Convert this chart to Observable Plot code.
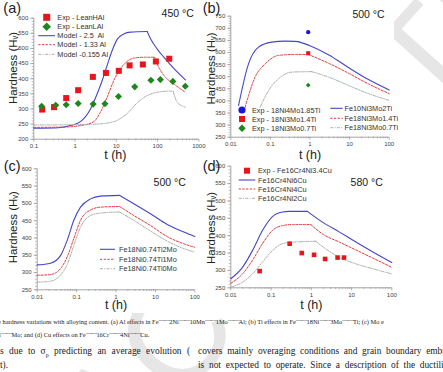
<!DOCTYPE html>
<html>
<head>
<meta charset="utf-8">
<script src="https://cdn.jsdelivr.net/npm/d3@7"></script>
<script src="https://cdn.jsdelivr.net/npm/@observablehq/plot@0.6"></script>
<style>
  html, body { margin: 0; padding: 0; background: #fff; }
  #fig { position: relative; width: 443px; height: 372px; overflow: hidden; background: #fff;
         font-family: "Liberation Sans", Arial, sans-serif; color: #222; }
  #wm { position: absolute; left: 0; top: 0; }
  #wm text { font-family: "Liberation Sans", Arial, sans-serif; font-size: 137px; fill: #e6e6e6; dominant-baseline: central; }
  #sheet { position: absolute; left: 0; top: 0; width: 394px; height: 313px; background: #fff; }
  .panel { position: absolute; }
  .panel svg { overflow: visible; }
  #keys { position: absolute; left: 0; top: 0; overflow: visible; }
  #keys text { font-size: 7.3px; fill: #333; white-space: pre; dominant-baseline: central; }
  .txt { position: absolute; white-space: nowrap; font-family: "Liberation Serif", "Times New Roman", serif; color: #222; }
  .cap { font-size: 6.4px; line-height: 8px; }
  .body { font-size: 9.4px; line-height: 11px; text-align: justify; text-align-last: justify; }
  .d { position: relative; top: -1.6px; letter-spacing: -1px; }
</style>
</head>
<body>
<div id="fig">
  <svg id="wm" width="443" height="372"><text transform="translate(175,335) rotate(-48)" x="-141">ACCEPTED MANUSCRIPT</text></svg>
  <div id="sheet"></div>
</div>
<script>
// ---------- (a) Al effects, 450 °C ----------
const aTicksX = [0.1, 1, 10, 100, 1000];
const aTicksY = [200, 250, 300, 350, 400, 450, 500, 550, 600];
const aExpHAlTime = [0.16, 0.31, 0.61, 1.19, 2.7, 5.6, 11.5, 21, 44, 91, 192];
const aExpHAlHv   = [298, 306, 336, 362, 406, 419, 426, 444, 447, 457, 466];
const aExpLAlTime = [0.155, 0.34, 0.61, 1.19, 2.75, 5.3, 11.3, 28, 69, 117, 235, 470];
const aExpLAlHv   = [309, 312, 314, 318, 316, 317, 341, 373, 395, 397, 391, 375];
const aModel25Time = [0.1, 0.4, 0.77, 1.35, 2.37, 3.44, 4.55, 6.0, 7.94, 10.5, 15.2, 22, 56, 67.6, 98, 142, 247, 475];
const aModel25Hv   = [236, 238, 245, 258, 300, 350, 394, 444, 493, 530, 548, 554, 556, 532, 498, 471, 434, 396];
const aModel25Peak = 56;
const aModel133Time = [0.1, 0.5, 1.35, 2.85, 4.1, 6.0, 8.7, 12.6, 18.2, 26.4, 50, 85, 98, 142, 247, 475];
const aModel133Hv   = [239, 240, 245, 258, 289, 339, 394, 433, 457, 468, 471, 471, 449, 411, 383, 355];
const aModel133Peak = 85;
const aModel0155Time = [0.1, 1, 3.4, 8.7, 18, 32, 56, 98, 205, 240, 300, 475];
const aModel0155Hv   = [247, 248, 250, 258, 284, 320, 344, 355, 359, 358, 322, 306];
const aModel0155Peak = 240;
const aLegend = ["Exp - LeanHAl", "Exp - LeanLAl", "Model - 2.5  Al", "Model - 1.33 Al", "Model -0.155 Al"];

// ---------- (b) Ti effects, 500 °C ----------
const bTicksX = [0.01, 0.1, 1, 10, 100];
const bTicksY = [250, 300, 350, 400, 450, 500, 550, 600, 650, 700, 750];
const bExpTime = [0.9];
const bExp185Hv = [684];
const bExp14Hv  = [597];
const bExp07Hv  = [465];
const bMo2TiTime = [0.0157, 0.028, 0.05, 0.108, 0.235, 0.51, 1, 3, 10, 30, 100];
const bMo2TiHv   = [381, 553, 622, 643, 647, 645, 628, 590, 535, 488, 445];
const bMo2TiPeak = 0.51;
const bTi14Time = [0.023, 0.041, 0.074, 0.16, 0.43, 0.9, 3, 10, 30, 100];
const bTi14Hv   = [374, 498, 553, 588, 592, 592, 555, 512, 470, 430];
const bTi14Peak = 0.9;
const bTi07Time = [0.055, 0.09, 0.16, 0.35, 1.1, 3, 10, 30, 100];
const bTi07Hv   = [374, 443, 491, 519, 521, 498, 462, 430, 402];
const bTi07Peak = 1.1;
const bLegendExp = ["Exp - 18Ni4Mo1.85Ti", "Exp - 18Ni3Mo1.4Ti", "Exp - 18Ni3Mo0.7Ti"];
const bLegendModel = ["Fe10Ni3Mo2Ti", "Fe18Ni3Mo1.4Ti", "Fe18Ni3Mo0.7Ti"];

// ---------- (c) Mo effects, 500 °C ----------
const cTicksX = [0.01, 0.1, 1, 10, 100];
const cTicksY = [250, 300, 350, 400, 450, 500, 550, 600];
const cTime  = [0.01, 0.0218, 0.039, 0.0577, 0.085, 0.1256, 0.225, 0.404, 1.23, 2.83, 7.5, 19.9, 52.6, 100];
const c2MoHv = [322, 327, 349, 393, 451, 489, 513, 521, 523, 499, 470, 439, 417, 404];
const c1MoHv = [292, 294, 311, 345, 398, 451, 481, 489, 491, 465, 436, 404, 383, 373];
const c0MoHv = [272, 275, 292, 323, 378, 431, 465, 472, 475, 451, 420, 391, 369, 359];
const cPeak = 1.23;
const cLegend = ["Fe18Ni0.74Ti2Mo", "Fe18Ni0.74Ti1Mo", "Fe18Ni0.74Ti0Mo"];

// ---------- (d) Cu effects, 580 °C ----------
const dTicksX = [0.01, 0.1, 1, 10, 100];
const dTicksY = [250, 300, 350, 400, 450, 500, 550, 600];
const dExpTime = [0.052, 0.29, 0.58, 1.17, 2.2, 4.5, 6.5];
const dExpHv   = [298, 377, 350, 345, 333, 337, 337];
const d6CuTime = [0.01, 0.0195, 0.0345, 0.0612, 0.108, 0.192, 0.281, 0.8, 1.89, 4.91, 12.8, 33.1, 100];
const d6CuHv   = [276, 309, 357, 415, 455, 468, 470, 470, 439, 411, 382, 354, 323];
const d6CuPeak = 0.8;
const d4CuTime = [0.01, 0.0195, 0.0345, 0.0612, 0.108, 0.192, 0.34, 0.97, 1.89, 4.91, 12.8, 33.1, 100];
const d4CuHv   = [263, 290, 329, 377, 415, 429, 432, 432, 405, 382, 359, 336, 309];
const d4CuPeak = 0.97;
const d2CuTime = [0.01, 0.0195, 0.0345, 0.0612, 0.108, 0.192, 0.34, 1.29, 2.29, 4.91, 12.8, 33.1, 100];
const d2CuHv   = [252, 266, 290, 324, 357, 377, 381, 384, 362, 338, 319, 305, 290];
const d2CuPeak = 1.29;
const dLegend = ["Exp - Fe16Cr4Ni3.4Cu", "Fe16Cr4Ni6Cu", "Fe16Cr4Ni4Cu", "Fe16Cr4Ni2Cu"];

// ---------- styles ----------
const AXIS = "#8d8d8d";
const BLUE_LINE = {stroke: "#4646c8", strokeWidth: 1.1};
const RED_LINE = {stroke: "#e2393c", strokeWidth: 1, strokeDasharray: "2.2,1.5"};
const GREY_LINE = {stroke: "#a9b3a9", strokeWidth: 1, strokeDasharray: "3,1.3,1,1.3"};
const RED = "#e8161b", GREEN = "#1d861d", BLUE = "#1717dc";

const fig = document.getElementById("fig");

// minor ticks at 2..9 of every decade in the domain
function decadeMinors(domain) {
  const out = [];
  const e0 = Math.round(Math.log10(domain[0])), e1 = Math.round(Math.log10(domain[1]));
  for (let e = e0; e < e1; ++e) for (let k = 2; k <= 9; ++k) out.push(+(k * Math.pow(10, e)).toPrecision(6));
  return out;
}

// hardening curve: smooth rise to the plateau, kink, then smooth softening
function model(time, hv, peak, style) {
  const k = time.indexOf(peak);
  const t1 = time.slice(0, k + 1), h1 = hv.slice(0, k + 1);
  const t2 = time.slice(k), h2 = hv.slice(k);
  return [
    Plot.line(t1, {x: t1, y: h1, curve: "monotone-x", ...style}),
    Plot.line(t2, {x: t2, y: h2, curve: "monotone-x", ...style})
  ];
}

// free text placed relative to a frame anchor, centred on its point
function note(s, frameAnchor, dx, dy, size, extra = {}) {
  return Plot.text([s], {frameAnchor, dx, dy, fontSize: size, fill: "#222", textAnchor: "middle", lineAnchor: "middle", ...extra});
}

function panel(o) {
  const W = 222, H = 160;
  const [mt, mr, mb, ml] = o.margins;
  const x0 = o.xTicks[0], x1 = o.xTicks[o.xTicks.length - 1];
  const y0 = o.yTicks[0], y1 = o.yTicks[o.yTicks.length - 1];
  const svg = Plot.plot({
    width: W, height: H,
    marginTop: mt, marginRight: mr, marginBottom: mb, marginLeft: ml,
    style: {background: "transparent", overflow: "visible", fontFamily: "Liberation Sans, Arial, sans-serif"},
    x: {type: "log", domain: [x0, x1]},
    y: {domain: [y0, y1]},
    marks: [
      Plot.axisY({ticks: d3.range(y0, y1 + 1, 10), tickSize: 1.6, fill: "none", stroke: AXIS, strokeWidth: 0.6, label: null}),
      Plot.axisY({ticks: o.yTicks, tickSize: 3, tickPadding: 2.5, fontSize: 6, fill: "#444", stroke: AXIS, strokeWidth: 0.7, label: null}),
      Plot.axisX({ticks: decadeMinors([x0, x1]), tickSize: 1.6, fill: "none", stroke: AXIS, strokeWidth: 0.6, label: null}),
      Plot.axisX({ticks: o.xTicks, tickSize: 3, tickPadding: 1.5, fontSize: 6, fill: "#444", stroke: AXIS, strokeWidth: 0.7, tickFormat: (d) => String(d), label: null}),
      Plot.ruleX([x0], {stroke: AXIS, strokeWidth: 0.8}),
      Plot.ruleY([y0], {stroke: AXIS, strokeWidth: 0.8}),
      ...o.marks,
      note("Hardness (Hᵥ)", "left", o.yLabel[0], o.yLabel[1], 11.5, {rotate: -90}),
      note("t (h)", "bottom", o.xLabel[0], o.xLabel[1], 12.5),
      note(o.temp, "top-left", o.tempAt[0], o.tempAt[1], 10.5),
      note(o.tag, "top-left", o.tagAt[0], o.tagAt[1], 14.5)
    ]
  });
  const box = document.createElement("div");
  box.className = "panel";
  box.style.left = o.left + "px";
  box.style.top = o.top + "px";
  box.appendChild(svg);
  fig.appendChild(box);
}

panel({
  left: 0, top: 0, margins: [17.7, 23.7, 21.3, 33.3],
  xTicks: aTicksX, yTicks: aTicksY,
  tag: "(a)", tagAt: [-21.6, -9.7], temp: "450 °C", tempAt: [143.9, -5],
  yLabel: [-20, -10.7], xLabel: [-1, 15.3],
  marks: [
    ...model(aModel25Time, aModel25Hv, aModel25Peak, BLUE_LINE),
    ...model(aModel133Time, aModel133Hv, aModel133Peak, RED_LINE),
    ...model(aModel0155Time, aModel0155Hv, aModel0155Peak, GREY_LINE),
    Plot.dot(aExpHAlTime, {x: aExpHAlTime, y: aExpHAlHv, symbol: "square", r: 3.4, fill: RED}),
    Plot.dot(aExpLAlTime, {x: aExpLAlTime, y: aExpLAlHv, symbol: "diamond2", r: 3.2, fill: GREEN})
  ]
});

panel({
  left: 200, top: 0, margins: [15.7, 33.3, 23.3, 30.3],
  xTicks: bTicksX, yTicks: bTicksY,
  tag: "(b)", tagAt: [-19.3, -7.4], temp: "500 °C", tempAt: [137.7, -1.7],
  yLabel: [-19.8, -8.2], xLabel: [0, 17.3],
  marks: [
    ...model(bMo2TiTime, bMo2TiHv, bMo2TiPeak, BLUE_LINE),
    ...model(bTi14Time, bTi14Hv, bTi14Peak, RED_LINE),
    ...model(bTi07Time, bTi07Hv, bTi07Peak, GREY_LINE),
    Plot.dot(bExpTime, {x: bExpTime, y: bExp185Hv, symbol: "circle", r: 2.1, fill: BLUE}),
    Plot.dot(bExpTime, {x: bExpTime, y: bExp14Hv, symbol: "square", r: 2.3, fill: RED}),
    Plot.dot(bExpTime, {x: bExpTime, y: bExp07Hv, symbol: "diamond2", r: 2.1, fill: GREEN})
  ]
});

panel({
  left: 0, top: 150, margins: [18.3, 27.7, 20.7, 36.7],
  xTicks: cTicksX, yTicks: cTicksY,
  tag: "(c)", tagAt: [-25, -2.3], temp: "500 °C", tempAt: [132.5, 14],
  yLabel: [-23.4, -2.1], xLabel: [0, 14.7],
  marks: [
    ...model(cTime, c2MoHv, cPeak, BLUE_LINE),
    ...model(cTime, c1MoHv, cPeak, RED_LINE),
    ...model(cTime, c0MoHv, cPeak, GREY_LINE)
  ]
});

panel({
  left: 200, top: 150, margins: [15.7, 30.7, 22.7, 30.3],
  xTicks: dTicksX, yTicks: dTicksY,
  tag: "(d)", tagAt: [-19.3, 0.3], temp: "580 °C", tempAt: [135.9, 16],
  yLabel: [-19.5, 1], xLabel: [0, 16.7],
  marks: [
    ...model(d6CuTime, d6CuHv, d6CuPeak, BLUE_LINE),
    ...model(d4CuTime, d4CuHv, d4CuPeak, RED_LINE),
    ...model(d2CuTime, d2CuHv, d2CuPeak, GREY_LINE),
    Plot.dot(dExpTime, {x: dExpTime, y: dExpHv, symbol: "square", r: 2.6, fill: RED})
  ]
});

// ---------- legends ----------
const NS = "http://www.w3.org/2000/svg";
const keys = document.createElementNS(NS, "svg");
keys.setAttribute("id", "keys");
keys.setAttribute("width", 443);
keys.setAttribute("height", 372);
fig.appendChild(keys);
function el(name, attrs) {
  const e = document.createElementNS(NS, name);
  for (const k in attrs) e.setAttribute(k, attrs[k]);
  keys.appendChild(e);
  return e;
}
function keyLabel(x, y, s) { el("text", {x, y}).textContent = s; }
function keySquare(cx, cy, s, c) { el("rect", {x: cx - s / 2, y: cy - s / 2, width: s, height: s, fill: c}); }
function keyDiamond(cx, cy, s, c) { const h = s / 2; el("path", {d: `M${cx},${cy - h}L${cx + h},${cy}L${cx},${cy + h}L${cx - h},${cy}Z`, fill: c}); }
function keyCircle(cx, cy, r, c) { el("circle", {cx, cy, r, fill: c}); }
function keyLine(x1, x2, y, st) {
  el("line", {x1, x2, y1: y, y2: y, stroke: st.stroke, "stroke-width": st.strokeWidth, "stroke-dasharray": st.strokeDasharray || "none"});
}

// (a)
keySquare(46.7, 17.3, 7, RED); keyLabel(57.3, 17.3, aLegend[0]);
keyDiamond(46.7, 26.7, 8.6, GREEN); keyLabel(57.3, 26.7, aLegend[1]);
keyLine(38.3, 55, 35.7, BLUE_LINE); keyLabel(57.3, 35.7, aLegend[2]);
keyLine(38.3, 55, 44.7, RED_LINE); keyLabel(57.3, 44.7, aLegend[3]);
keyLine(38.3, 55, 54.3, GREY_LINE); keyLabel(57.3, 54.3, aLegend[4]);
// (b)
keyCircle(242, 110, 3.6, BLUE); keyLabel(252, 110, bLegendExp[0]);
keySquare(242, 119, 6, RED); keyLabel(252, 119, bLegendExp[1]);
keyDiamond(242, 128.3, 7.4, GREEN); keyLabel(252, 128.3, bLegendExp[2]);
keyLine(330.3, 342.7, 108.3, BLUE_LINE); keyLabel(344.5, 108.3, bLegendModel[0]);
keyLine(330.3, 342.7, 118.3, RED_LINE); keyLabel(344.5, 118.3, bLegendModel[1]);
keyLine(330.3, 342.7, 127.7, GREY_LINE); keyLabel(344.5, 127.7, bLegendModel[2]);
// (c)
keyLine(100, 115, 249.3, BLUE_LINE); keyLabel(119, 249.3, cLegend[0]);
keyLine(100, 115, 259.3, RED_LINE); keyLabel(119, 259.3, cLegend[1]);
keyLine(100, 115, 268.7, GREY_LINE); keyLabel(119, 268.7, cLegend[2]);
// (d)
keySquare(247, 170.7, 6, RED); keyLabel(258, 170.7, dLegend[0]);
keyLine(238.7, 255.3, 180, BLUE_LINE); keyLabel(258, 180, dLegend[1]);
keyLine(238.7, 255.3, 189, RED_LINE); keyLabel(258, 189, dLegend[2]);
keyLine(238.7, 255.3, 198.3, GREY_LINE); keyLabel(258, 198.3, dLegend[3]);

// ---------- caption and running text ----------
function block(cls, left, top, width, html) {
  const div = document.createElement("div");
  div.className = "txt " + cls;
  div.style.left = left + "px";
  div.style.top = top + "px";
  if (width) div.style.width = width + "px";
  div.innerHTML = html;
  fig.appendChild(div);
}
const D = '<span class="d">——</span>';
block("cap", -2, 318, 448, `e hardness variations with alloying content. (a) Al effects in Fe${D}2Ni${D}10Mn${D}1Mo${D}Al; (b) Ti effects in Fe${D}18Ni${D}3Mo${D}Ti; (c) Mo e`);
block("cap", -1, 331, null, `i${D}Mo; and (d) Cu effects on Fe${D}16Cr${D}4Ni${D}Cu.`);
block("body", 0, 346, 190, `s due to σ<sub style="font-size:6px">p</sub> predicting an average evolution (`);
block("body", 198, 346, 262, `covers mainly overaging conditions and grain boundary embrittle`);
block("body", 0, 360, null, `t).`);
block("body", 198, 360, 265, `is not expected to operate. Since a description of the ductility in`);
</script>
</body>
</html>
